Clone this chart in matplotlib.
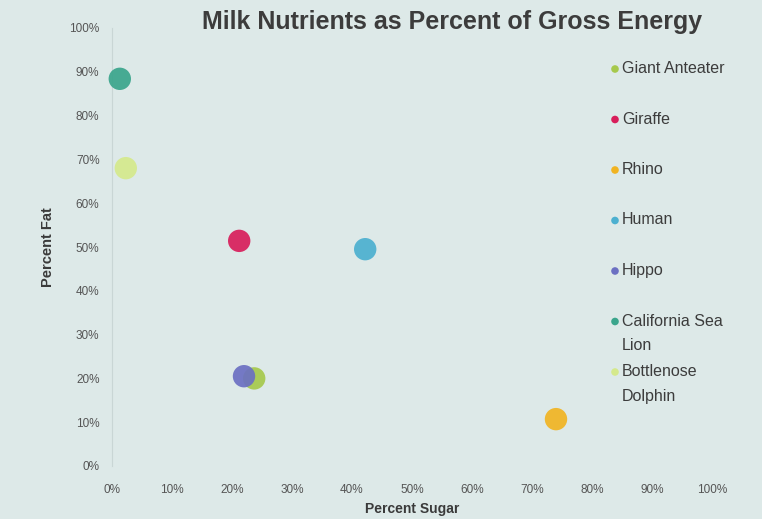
import matplotlib
matplotlib.use("Agg")
import matplotlib.pyplot as plt
from matplotlib.ticker import PercentFormatter

plt.rcParams['font.family'] = ['Liberation Sans', 'DejaVu Sans']

# data (percent of gross energy)
animals = ["Giant Anteater", "Giraffe", "Rhino", "Human", "Hippo",
           "California Sea\nLion", "Bottlenose\nDolphin"]
sugar = [23.7, 21.2, 74.0, 42.2, 22.0, 1.3, 2.3]
fat = [20.0, 51.4, 10.7, 49.5, 20.5, 88.4, 68.0]
colors = ["#a6c94c", "#d81e5b", "#f1b422", "#4cb0d0", "#6b70c2",
          "#3aa58c", "#d5e98c"]

bg = "#dde9e8"
fig = plt.figure(figsize=(7.62, 5.19), dpi=100, facecolor=bg)
ax = fig.add_axes([112 / 762, 53 / 519, 600 / 762, 438 / 519])
ax.set_facecolor(bg)

for x, y, c in zip(sugar, fat, colors):
    ax.scatter(x, y, s=260, color=c, alpha=0.92, edgecolors="none",
               zorder=3, clip_on=False)

ax.set_xlim(0, 100)
ax.set_ylim(0, 100)
ax.set_xticks(range(0, 101, 10))
ax.set_yticks(range(0, 101, 10))
ax.xaxis.set_major_formatter(PercentFormatter(decimals=0))
ax.yaxis.set_major_formatter(PercentFormatter(decimals=0))
ax.tick_params(length=0, labelsize=8.5, labelcolor="#555555")
ax.tick_params(axis="x", pad=13)
ax.tick_params(axis="y", pad=9)
for s in ["top", "right", "bottom"]:
    ax.spines[s].set_visible(False)
ax.spines["left"].set_color("#c9d6d5")

ax.set_xlabel("Percent Sugar", fontsize=10, fontweight="bold",
              color="#3a3a3a", labelpad=4)
ax.set_ylabel("Percent Fat", fontsize=10.5, fontweight="bold",
              color="#3a3a3a", labelpad=10)

fig.text(452 / 762, 1 - 22 / 519, "Milk Nutrients as Percent of Gross Energy",
         ha="center", va="center", fontsize=18, fontweight="bold",
         color="#3c3c3c")

# legend drawn on an overlay in pixel coordinates
lax = fig.add_axes([0, 0, 1, 1])
lax.set_xlim(0, 762)
lax.set_ylim(519, 0)
lax.axis("off")
for i, (name, c) in enumerate(zip(animals, colors)):
    ly = 69 + i * 50.5
    lax.scatter(615, ly, s=30, color=c, edgecolors="none")
    lax.text(622, ly - 8, name, ha="left", va="top", fontsize=11.5,
             color="#3c3c3c", linespacing=1.8)

fig.savefig("out.png", dpi=100, facecolor=bg)
